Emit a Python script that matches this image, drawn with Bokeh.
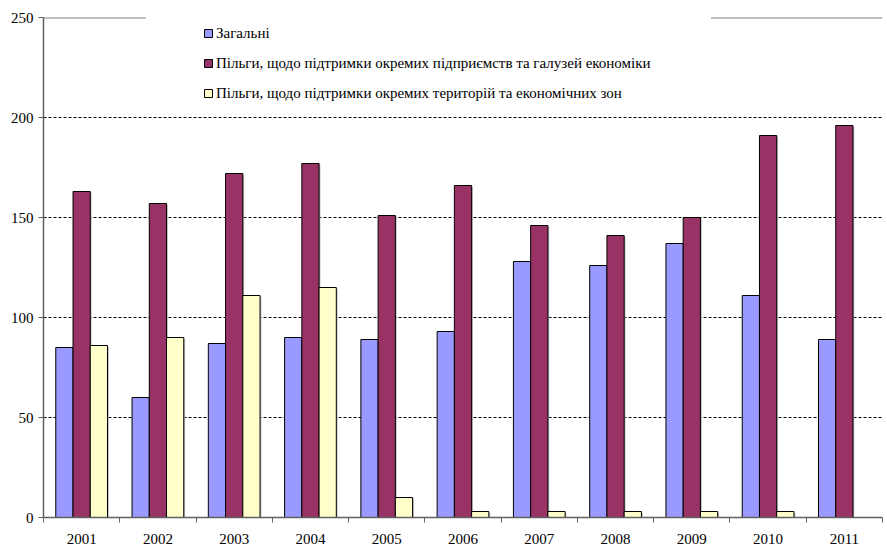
from bokeh.plotting import figure
from bokeh.models import Range1d, FixedTicker, Legend, LegendItem
from bokeh.embed import file_html
from bokeh.resources import INLINE
import numpy as np

years = ["2001", "2002", "2003", "2004", "2005", "2006", "2007", "2008", "2009", "2010", "2011"]
general = [85, 60, 87, 90, 89, 93, 128, 126, 137, 111, 89]
enterprises = [163, 157, 172, 177, 151, 166, 146, 141, 150, 191, 196]
territories = [86, 90, 111, 115, 10, 3, 3, 3, 3, 3, 0]
series_labels = [
    "Загальні",
    "Пільги, щодо підтримки окремих підприємств та галузей економіки",
    "Пільги, щодо підтримки окремих територій та економічних зон",
]
colors = ["#9999FF", "#993366", "#FFFFCC"]
y_ticks = [0, 50, 100, 150, 200, 250]

FONT = "'Liberation Serif', 'Times New Roman', serif"
FSIZE = "15px"

p = figure(width=887, height=547,
           x_range=Range1d(-0.5, len(years) - 0.5), y_range=Range1d(0, 250),
           output_backend="svg", toolbar_location=None,
           min_border_left=43, min_border_top=17, min_border_right=5, min_border_bottom=30)
p.outline_line_color = None
p.background_fill_color = "white"

idx = np.arange(len(years))
w = 0.226
renderers = []
for k, (vals, c) in enumerate(zip([general, enterprises, territories], colors)):
    # subtle shadow
    p.vbar(x=idx + (k - 1) * w + 0.018, top=np.array(vals) - 0.6, bottom=0, width=w,
           fill_color="#b0b0b0", line_color=None, fill_alpha=0.8)
    r = p.vbar(x=idx + (k - 1) * w, top=vals, bottom=0, width=w,
               fill_color=c, line_color="black", line_width=1)
    renderers.append(r)

# top border line interrupted by legend
p.segment(x0=[-0.5, 8.25], x1=[0.84, len(years) - 0.5], y0=[250, 250], y1=[250, 250],
          line_color="#808080", line_width=2)

# x axis
xa = p.xaxis[0]
xa.ticker = FixedTicker(ticks=list(idx), minor_ticks=list(np.arange(-0.5, len(years), 1.0)))
xa.major_label_overrides = {int(i): y for i, y in zip(idx, years)}
xa.major_tick_line_color = None
xa.major_tick_out = 0
xa.major_tick_in = 0
xa.minor_tick_out = 5
xa.minor_tick_in = 0
xa.minor_tick_line_color = "#606060"
xa.axis_line_color = "#606060"
xa.axis_line_width = 1.5
xa.major_label_text_font = FONT
xa.major_label_text_font_size = FSIZE
xa.major_label_text_color = "black"
xa.major_label_standoff = 11

# y axis
ya = p.yaxis[0]
ya.ticker = FixedTicker(ticks=y_ticks)
ya.minor_tick_line_color = None
ya.major_tick_out = 5
ya.major_tick_in = 0
ya.major_tick_line_color = "#606060"
ya.axis_line_color = "#606060"
ya.axis_line_width = 1.5
ya.major_label_text_font = FONT
ya.major_label_text_font_size = FSIZE
ya.major_label_text_color = "black"
ya.major_label_standoff = 5

p.xgrid.visible = False
p.ygrid.ticker = FixedTicker(ticks=y_ticks[1:-1])
p.ygrid.grid_line_color = "black"
p.ygrid.grid_line_dash = "3 2"
p.ygrid.grid_line_width = 1

legend = Legend(items=[LegendItem(label=l, renderers=[r]) for l, r in zip(series_labels, renderers)],
                location=(160, 414), orientation="vertical")
legend.padding = 0
legend.spacing = 10
legend.label_height = 20
legend.glyph_height = 10
legend.glyph_width = 10
legend.label_standoff = 3
legend.label_text_font = FONT
legend.label_text_font_size = FSIZE
legend.label_text_color = "black"
legend.background_fill_alpha = 0
legend.border_line_color = None
legend.margin = 0
p.add_layout(legend, "center")

open("out.html", "w").write(file_html(p, INLINE))
